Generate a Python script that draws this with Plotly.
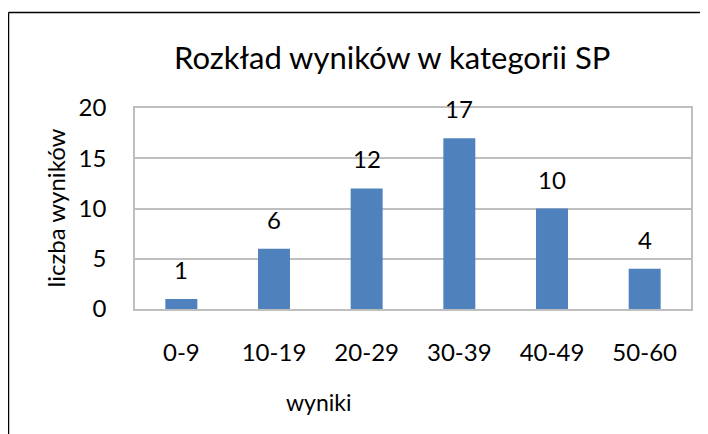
import plotly.graph_objects as go

categories = ["0-9", "10-19", "20-29", "30-39", "40-49", "50-60"]
counts = [1, 6, 12, 17, 10, 4]
y_ticks = [0, 5, 10, 15, 20]

FONT = "Lato"
BAR = "#4F81BD"
GRID = "#BFBFBF"

# page body has an 8px margin, so compensate in plot margins
OFF = 8
L, R, T, B = 135 - OFF, 17 + OFF, 108 - OFF, 125 + OFF
PW = 556
PH = 201


def px_x(x):
    return (x - 135) / PW


def px_y(y):
    return (309 - y) / PH


fig = go.Figure()
fig.add_trace(go.Bar(x=categories, y=counts, marker=dict(color=BAR, line=dict(width=0)),
                     hoverinfo="skip"))

for c, v in zip(categories, counts):
    fig.add_annotation(x=c, y=v, text=str(v), showarrow=False, xref="x", yref="y",
                       yanchor="bottom", yshift=13, font=dict(family=FONT, size=24, color="#000"))

fig.update_layout(
    width=708, height=434,
    margin=dict(l=L, r=R, t=T, b=B),
    paper_bgcolor="white", plot_bgcolor="white",
    bargap=0.655, showlegend=False,
    font=dict(family=FONT, color="#000"),
    xaxis=dict(showline=True, linecolor=GRID, linewidth=1.5, mirror=True, showgrid=False,
               tickfont=dict(family=FONT, size=24, color="#000"), ticks="", ticklabelstandoff=21),
    yaxis=dict(range=[0, 20], tickvals=y_ticks, showline=True, linecolor=GRID, linewidth=1.5,
               mirror=True, showgrid=True, gridcolor=GRID, gridwidth=1.5, zeroline=False,
               tickfont=dict(family=FONT, size=24, color="#000"), ticks="", ticklabelstandoff=22),
    shapes=[
        dict(type="line", xref="paper", yref="paper", x0=px_x(8.5), x1=2,
             y0=px_y(12.5), y1=px_y(12.5), line=dict(color="#000", width=1.5)),
        dict(type="line", xref="paper", yref="paper", x0=px_x(8.5), x1=px_x(8.5),
             y0=px_y(12.5), y1=-2, line=dict(color="#000", width=1.5)),
    ],
    annotations=list(fig.layout.annotations) + [
        dict(text="Rozkład wyników w kategorii SP", xref="paper", yref="paper",
             x=px_x(391.5), y=px_y(57), showarrow=False,
             xanchor="center", yanchor="middle", font=dict(family=FONT, size=31, color="#000")),
        dict(text="wyniki", xref="paper", yref="paper", x=px_x(318), y=px_y(402),
             showarrow=False, xanchor="center", yanchor="middle",
             font=dict(family=FONT, size=23, color="#000")),
        dict(text="liczba wyników", xref="paper", yref="paper", x=px_x(55), y=0.5,
             textangle=-90, showarrow=False, xanchor="center", yanchor="middle",
             font=dict(family=FONT, size=24, color="#000")),
    ],
)

fig.write_html("out.html")
